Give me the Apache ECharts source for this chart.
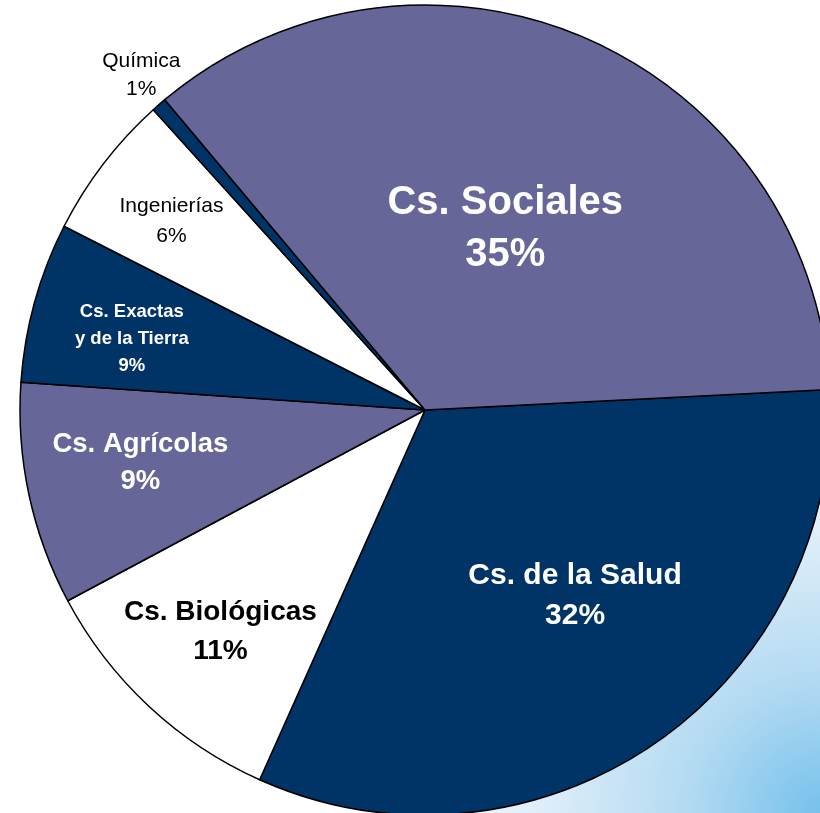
<!DOCTYPE html>
<html>
<head>
<meta charset="utf-8">
<script src="https://cdn.jsdelivr.net/npm/echarts@6/dist/echarts.min.js"></script>
<style>
  html, body { margin: 0; padding: 0; background: #fff; }
  #chart { width: 820px; height: 813px; }
</style>
</head>
<body>
<div id="chart"></div>
<script>
// areas in drawing order, clockwise from the right edge
const areas = ['Cs. de la Salud', 'Cs. Biológicas', 'Cs. Agrícolas', 'Cs. Exactas\ny de la Tierra', 'Ingenierías', 'Química', 'Cs. Sociales']
// slice sizes
const shares = [32.5, 10.5, 8.9, 6.4, 5.8, 0.6, 35.3]
// percentages as printed on the slices
const shareLabels = ['32%', '11%', '9%', '9%', '6%', '1%', '35%']

const CX = 425
const CY = 410
const RADIUS = 405
const START_ANGLE = 2.9

const sliceColors = ['#003366', '#ffffff', '#666699', '#003366', '#ffffff', '#003366', '#666699']
const labelColors = ['#fff', '#000', '#fff', '#fff', '#000', '#000', '#fff']
const labelSizes = [30, 28, 27.5, 18.5, 21, 21, 40]
const labelHeights = [40, 39, 37, 27, 30, 28, 52]
const labelWeights = ['bold', 'bold', 'bold', 'bold', 'normal', 'normal', 'bold']
// where each label sits: fraction of the radius, and a small turn off the slice middle
const labelDist = [0.59, 0.745, 0.715, 0.745, 0.78, 1.084, 0.49]
const labelTurn = [-4.5, -0.3, 1.5, -1.8, -0.8, 0.8, 0.3]

const total = shares.reduce((a, b) => a + b, 0)
let acc = -START_ANGLE
const midAngles = shares.map((v) => {
  const span = v / total * 360
  const mid = acc + span / 2
  acc += span
  return mid
})

const chart = echarts.init(document.getElementById('chart'))

chart.setOption({
  animation: false,
  graphic: [
    {
      type: 'rect',
      z: -10,
      silent: true,
      shape: { x: 0, y: 0, width: 820, height: 813 },
      style: {
        fill: new echarts.graphic.RadialGradient(1, 1, 0.55, [
          { offset: 0, color: '#76c1ec' },
          { offset: 0.3, color: '#b3daf2' },
          { offset: 0.65, color: '#e2eff9' },
          { offset: 1, color: '#ffffff' }
        ])
      }
    }
  ],
  series: [
    {
      type: 'pie',
      center: [CX, CY],
      radius: [0, RADIUS],
      startAngle: START_ANGLE,
      clockwise: true,
      avoidLabelOverlap: false,
      emphasis: { disabled: true },
      itemStyle: {
        borderColor: '#000',
        borderWidth: 1.5
      },
      label: {
        show: true,
        position: 'inside',
        rotate: 0,
        fontFamily: 'Liberation Sans, Arial, sans-serif',
        formatter: (p) => areas[p.dataIndex] + '\n' + shareLabels[p.dataIndex]
      },
      labelLine: { show: false },
      labelLayout: (params) => {
        const i = params.dataIndex
        const a = (midAngles[i] + labelTurn[i]) * Math.PI / 180
        const r = RADIUS * labelDist[i]
        return {
          x: CX + r * Math.cos(a),
          y: CY + r * Math.sin(a),
          align: 'center',
          verticalAlign: 'middle'
        }
      },
      data: areas.map((name, i) => {
        return {
          name: name,
          value: shares[i],
          itemStyle: { color: sliceColors[i] },
          label: {
            color: labelColors[i],
            fontSize: labelSizes[i],
            lineHeight: labelHeights[i],
            fontWeight: labelWeights[i]
          }
        }
      })
    }
  ]
})
</script>
</body>
</html>
